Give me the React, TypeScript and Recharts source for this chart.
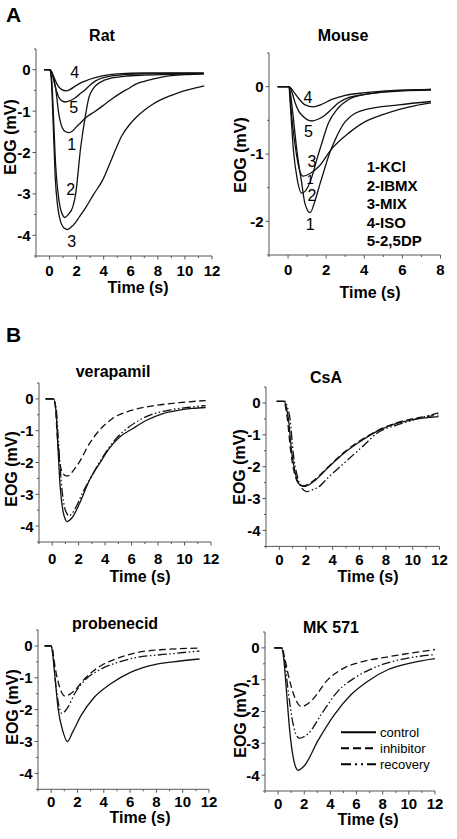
import { LineChart, Line, XAxis, YAxis, ReferenceDot } from 'recharts';

type Pt = [number, number];

// time (s), EOG (mV)
const ratKCl: Pt[] = [[-0.4, 0], [0, 0], [0.2, -0.1], [0.44, -0.43], [0.69, -1.08], [0.94, -1.4], [1.2, -1.5], [1.43, -1.52], [1.7, -1.48], [1.93, -1.4], [2.3, -1.28], [2.67, -1.16], [3.3, -1.02], [3.9, -0.88], [4.5, -0.73], [5.13, -0.59], [5.8, -0.46], [6.37, -0.35], [7, -0.28], [7.6, -0.23], [8.84, -0.15], [10, -0.12], [11.4, -0.1]];
const ratIBMX: Pt[] = [[-0.4, 0], [0, 0], [0.15, -0.2], [0.3, -1.2], [0.45, -2.3], [0.6, -2.9], [0.8, -3.35], [1.0, -3.53], [1.13, -3.57], [1.38, -3.5], [1.73, -3.3], [1.93, -3.0], [2.3, -1.88], [2.62, -1.17], [2.91, -0.67], [3.2, -0.47], [3.53, -0.35], [4.0, -0.26], [4.6, -0.2], [5.5, -0.16], [7, -0.13], [9, -0.11], [11.4, -0.1]];
const ratMIX: Pt[] = [[-0.4, 0], [0, 0], [0.12, -0.2], [0.28, -1.4], [0.42, -2.6], [0.6, -3.3], [0.8, -3.65], [1.05, -3.82], [1.31, -3.86], [1.6, -3.8], [1.9, -3.7], [2.17, -3.57], [2.67, -3.33], [3.28, -3.0], [3.9, -2.68], [4.6, -2.15], [5.33, -1.6], [5.9, -1.33], [6.37, -1.16], [7.0, -0.98], [7.6, -0.84], [8.2, -0.73], [8.84, -0.64], [9.5, -0.56], [10.07, -0.5], [10.8, -0.44], [11.43, -0.39]];
const ratISO: Pt[] = [[-0.4, 0], [0, 0], [0.15, -0.05], [0.35, -0.2], [0.6, -0.38], [0.9, -0.48], [1.23, -0.51], [1.5, -0.48], [1.93, -0.39], [2.3, -0.32], [2.67, -0.27], [3.3, -0.2], [3.9, -0.15], [5, -0.1], [7, -0.08], [9, -0.08], [11.4, -0.08]];
const ratDP: Pt[] = [[-0.4, 0], [0, 0], [0.15, -0.05], [0.32, -0.27], [0.5, -0.5], [0.69, -0.67], [0.95, -0.76], [1.19, -0.78], [1.5, -0.75], [1.93, -0.67], [2.3, -0.57], [2.67, -0.47], [3.0, -0.37], [3.4, -0.27], [4.0, -0.19], [4.6, -0.15], [5.5, -0.12], [7, -0.1], [9, -0.09], [11.4, -0.09]];

const mouseKCl: Pt[] = [[-0.54, 0], [0.05, 0], [0.25, -0.4], [0.46, -0.94], [0.72, -1.44], [0.89, -1.74], [1.16, -1.87], [1.42, -1.69], [1.68, -1.44], [1.95, -1.19], [2.2, -0.97], [2.47, -0.79], [3.0, -0.52], [4.05, -0.34], [5.8, -0.27], [7.5, -0.22]];
const mouseIBMX: Pt[] = [[-0.54, 0], [0.05, 0], [0.1, -0.19], [0.28, -0.94], [0.46, -1.34], [0.72, -1.58], [0.98, -1.52], [1.25, -1.34], [1.5, -1.09], [1.77, -0.84], [2.12, -0.54], [2.56, -0.34], [3.18, -0.19], [4.05, -0.115], [5.8, -0.065], [7.5, -0.04]];
const mouseMIX: Pt[] = [[-0.54, 0], [0.05, 0], [0.19, -0.44], [0.46, -1.04], [0.63, -1.27], [0.81, -1.33], [1.16, -1.29], [1.6, -1.19], [2.3, -0.92], [3.18, -0.69], [4.05, -0.52], [4.93, -0.42], [5.8, -0.34], [6.68, -0.28], [7.5, -0.24]];
const mouseISO: Pt[] = [[-0.54, 0], [0.05, 0], [0.3, -0.08], [0.6, -0.19], [0.9, -0.27], [1.33, -0.3], [1.7, -0.27], [2.3, -0.19], [3, -0.13], [4.05, -0.09], [5.8, -0.05], [7.5, -0.04]];
const mouseDP: Pt[] = [[-0.54, 0], [0.05, 0], [0.2, -0.08], [0.37, -0.24], [0.55, -0.36], [0.72, -0.42], [1.0, -0.49], [1.25, -0.51], [1.6, -0.48], [1.95, -0.42], [2.3, -0.33], [2.65, -0.24], [3.2, -0.16], [3.7, -0.13], [4.93, -0.08], [6, -0.06], [7.5, -0.05]];

const veraControl: Pt[] = [[-0.5, 0], [0.1, 0], [0.3, -0.45], [0.43, -1.5], [0.6, -2.76], [0.8, -3.5], [1.0, -3.8], [1.13, -3.86], [1.3, -3.82], [1.56, -3.7], [2.07, -3.28], [2.82, -2.55], [3.58, -2.03], [4.33, -1.55], [5.1, -1.2], [6.1, -0.93], [7.1, -0.68], [8.36, -0.46], [9.6, -0.35], [10.6, -0.3], [11.6, -0.27]];
const veraInhib: Pt[] = [[-0.5, 0], [0.1, 0], [0.25, -0.3], [0.35, -0.98], [0.55, -1.92], [0.8, -2.34], [1.05, -2.42], [1.26, -2.41], [1.6, -2.25], [2.07, -1.97], [2.82, -1.4], [3.58, -0.98], [4.58, -0.61], [5.84, -0.38], [7.6, -0.22], [9.6, -0.12], [11.6, -0.05]];
const veraRecov: Pt[] = [[-0.5, 0], [0.1, 0], [0.3, -0.3], [0.45, -1.2], [0.68, -2.6], [0.9, -3.35], [1.1, -3.6], [1.26, -3.68], [1.5, -3.6], [1.81, -3.39], [2.3, -2.95], [2.82, -2.55], [3.83, -1.82], [4.84, -1.24], [5.84, -0.87], [7.1, -0.56], [8.87, -0.35], [10.2, -0.27], [11.6, -0.21]];

const csaControl: Pt[] = [[-0.2, 0.05], [0.38, 0.05], [0.5, -0.1], [0.68, -0.5], [0.93, -1.55], [1.18, -2.17], [1.48, -2.54], [1.93, -2.62], [2.3, -2.55], [2.68, -2.43], [3.68, -2.02], [4.93, -1.55], [6.18, -1.18], [7.43, -0.87], [8.68, -0.66], [9.93, -0.53], [11.93, -0.43]];
const csaInhib: Pt[] = [[-0.2, 0.05], [0.35, 0.05], [0.45, -0.1], [0.6, -0.5], [0.85, -1.5], [1.1, -2.15], [1.4, -2.5], [1.8, -2.6], [2.3, -2.52], [2.68, -2.4], [3.68, -2.0], [4.93, -1.52], [6.18, -1.15], [7.43, -0.85], [8.68, -0.64], [9.93, -0.5], [11.93, -0.38]];
const csaRecov: Pt[] = [[-0.2, 0.05], [0.45, 0.05], [0.58, -0.1], [0.8, -0.5], [1.05, -1.6], [1.35, -2.3], [1.7, -2.68], [2.05, -2.78], [2.5, -2.72], [2.93, -2.64], [3.68, -2.33], [4.93, -1.86], [6.18, -1.39], [7.43, -0.92], [8.68, -0.71], [9.93, -0.55], [11.93, -0.31]];

const probControl: Pt[] = [[-0.5, 0], [0, 0], [0.1, -0.2], [0.28, -0.93], [0.53, -1.97], [0.9, -2.69], [1.23, -3.0], [1.65, -2.69], [2.28, -2.18], [3.28, -1.61], [4.53, -1.19], [6.03, -0.83], [7.53, -0.62], [9.28, -0.5], [11.28, -0.41]];
const probInhib: Pt[] = [[-0.5, 0], [0, 0], [0.1, -0.1], [0.28, -0.62], [0.65, -1.3], [0.85, -1.5], [1.08, -1.58], [1.4, -1.52], [1.78, -1.4], [2.53, -1.04], [3.78, -0.62], [5.03, -0.39], [6.28, -0.23], [8.28, -0.12], [11.28, -0.07]];
const probRecov: Pt[] = [[-0.5, 0], [0, 0], [0.12, -0.2], [0.33, -1.14], [0.55, -1.8], [0.83, -2.12], [1.05, -2.05], [1.28, -1.92], [1.78, -1.5], [2.53, -1.09], [3.78, -0.73], [5.03, -0.52], [6.28, -0.38], [8.78, -0.26], [11.28, -0.16]];

const mkControl: Pt[] = [[-0.3, 0], [0.25, 0], [0.45, -0.4], [0.64, -1.35], [0.89, -2.6], [1.15, -3.43], [1.35, -3.75], [1.53, -3.85], [1.75, -3.8], [2.04, -3.69], [3.06, -2.91], [4.34, -2.08], [5.61, -1.46], [6.89, -1.04], [8.42, -0.68], [10.2, -0.47], [12, -0.34]];
const mkInhib: Pt[] = [[-0.3, 0], [0.3, 0], [0.5, -0.3], [0.77, -0.83], [1.28, -1.56], [1.6, -1.8], [1.84, -1.85], [2.1, -1.8], [2.55, -1.66], [3.83, -0.99], [5.1, -0.62], [6.38, -0.44], [8.42, -0.28], [10.2, -0.16], [12, -0.05]];
const mkRecov: Pt[] = [[-0.3, 0], [0.3, 0], [0.5, -0.4], [0.77, -1.35], [1.15, -2.39], [1.45, -2.78], [1.66, -2.84], [1.95, -2.8], [2.3, -2.7], [3.32, -2.08], [4.6, -1.35], [5.87, -0.94], [7.65, -0.57], [9.44, -0.36], [12, -0.21]];

// curve numbers written on the traces: [t, mV, text, font size]
const ratNotes: [number, number, string, number][] = [[1.85, -0.07, '4', 16], [1.78, -0.92, '5', 16], [1.63, -1.81, '1', 16], [1.56, -2.89, '2', 16], [1.63, -4.14, '3', 16]];
const mouseNotes: [number, number, string, number][] = [[1.04, -0.165, '4', 16], [1.07, -0.665, '5', 16], [1.25, -1.115, '3', 16], [1.16, -1.37, '1', 13], [1.25, -1.62, '2', 16], [1.16, -2.04, '1', 16]];
const mouseKey = ['1-KCl', '2-IBMX', '3-MIX', '4-ISO', '5-2,5DP'];
const drugKey = ['control', 'inhibitor', 'recovery'];

const FONT = '"Liberation Sans", Arial, Helvetica, sans-serif';
const INHIB_DASH = '7 3.5';
const RECOV_DASH = '9 2.5 1.5 2.5 1.5 2.5';
const AXIS = '#555';

const rows = (pts: Pt[]) => pts.map(([t, v]) => ({ t, v }));
const range = (a: number, b: number, step: number) => {
    const out: number[] = [];
    for (let v = a; v <= b + 1e-9; v += step) out.push(Math.round(v * 10) / 10);
    return out;
};

interface Box { x: number; y: number; w: number; h: number }
interface Series { pts: Pt[]; dash?: string }

const RAT: Box = { x: 36, y: 49, w: 176, h: 207 };
const MOUSE: Box = { x: 268.5, y: 53, w: 171.5, h: 202 };
const VERA: Box = { x: 39, y: 383, w: 172, h: 159 };
const CSA: Box = { x: 266.3, y: 387.3, w: 173.4, h: 159.4 };
const PROB: Box = { x: 38.3, y: 630, w: 171, h: 159.3 };
const MK: Box = { x: 265.3, y: 631.7, w: 170, h: 159 };

const L = 40, T = 40, R = 14, B = 40;

function Panel({ box, xMax, yMin, gap, series, notes = [] }: {
    box: Box; xMax: number; yMin: number; gap: number; series: Series[]; notes?: [number, number, string, number][];
}) {
    const xTicks = range(-1, xMax, 1);
    const yTicks = range(yMin, 0.5, 0.5);

    const xTick = ({ x, y, payload }: any) => {
        const major = payload.value % 2 === 0;
        return (
            <g>
                <line x1={x} x2={x} y1={y} y2={y + (major ? 3.5 : 2)} stroke={AXIS} />
                {major && (
                    <text x={x} y={y + gap + 5.4} textAnchor="middle" fontFamily={FONT} fontWeight="bold" fontSize={15} fill="#000">
                        {payload.value}
                    </text>
                )}
            </g>
        );
    };
    const yTick = ({ x, y, payload }: any) => {
        const major = Number.isInteger(payload.value);
        return (
            <g>
                <line x1={x} x2={x - (major ? 3.5 : 2)} y1={y} y2={y} stroke={AXIS} />
                {major && (
                    <text x={x - 5.5} y={y + 5.4} textAnchor="end" fontFamily={FONT} fontWeight="bold" fontSize={15} fill="#000">
                        {payload.value}
                    </text>
                )}
            </g>
        );
    };

    return (
        <div style={{ position: 'absolute', left: box.x - L, top: box.y - T }}>
            <LineChart width={box.w + L + R} height={box.h + T + B} margin={{ top: T, right: R, left: 0, bottom: 0 }}>
                <XAxis type="number" dataKey="t" domain={[-1, xMax]} ticks={xTicks} interval={0} allowDataOverflow
                    height={B} tickSize={0} tickMargin={0} tickLine={false} axisLine={{ stroke: AXIS }} tick={xTick} />
                <YAxis type="number" domain={[yMin, 0.5]} ticks={yTicks} interval={0} allowDataOverflow
                    width={L} tickSize={0} tickMargin={0} tickLine={false} axisLine={{ stroke: AXIS }} tick={yTick} />
                {series.map((s, i) => (
                    <Line key={i} data={rows(s.pts)} dataKey="v" type="monotone" stroke="#111" strokeWidth={1.3}
                        strokeDasharray={s.dash} dot={false} activeDot={false} isAnimationActive={false} />
                ))}
                {notes.map(([t, v, txt, size], i) => (
                    <ReferenceDot key={'n' + i} x={t} y={v} r={1} fill="none" stroke="none"
                        label={{ value: txt, position: 'center', fontSize: size, fill: '#000', fontFamily: FONT }} />
                ))}
            </LineChart>
        </div>
    );
}

const T_STYLE = { fontFamily: FONT, fontWeight: 'bold' as const, fill: '#000' };

export default function App() {
    const yLabels: [number, number][] = [[10, 137], [240, 155], [11, 469], [239, 467], [12, 707], [240, 720]];
    const xLabels: [number, number][] = [[138, 293], [370, 298], [140, 582], [368, 582], [140, 823], [368, 825]];
    const titles: [number, number, string][] = [[102, 40.7, 'Rat'], [343, 40.7, 'Mouse'], [113, 377, 'verapamil'], [326, 382.7, 'CsA'], [115, 629, 'probenecid'], [331, 633, 'MK 571']];
    const keyDash = [undefined, '8 4', '10 4 2 4 2 4'];

    return (
        <div style={{ position: 'absolute', left: 0, top: 0, width: 457, height: 839, background: '#fff', overflow: 'hidden' }}>
            <Panel box={RAT} xMax={12} yMin={-4.5} gap={14.5} notes={ratNotes}
                series={[{ pts: ratKCl }, { pts: ratIBMX }, { pts: ratMIX }, { pts: ratISO }, { pts: ratDP }]} />
            <Panel box={MOUSE} xMax={8} yMin={-2.5} gap={14.5} notes={mouseNotes}
                series={[{ pts: mouseKCl }, { pts: mouseIBMX }, { pts: mouseMIX }, { pts: mouseISO }, { pts: mouseDP }]} />
            <Panel box={VERA} xMax={12} yMin={-4.5} gap={17}
                series={[{ pts: veraControl }, { pts: veraInhib, dash: INHIB_DASH }, { pts: veraRecov, dash: RECOV_DASH }]} />
            <Panel box={CSA} xMax={12} yMin={-4.5} gap={13}
                series={[{ pts: csaControl }, { pts: csaInhib, dash: INHIB_DASH }, { pts: csaRecov, dash: RECOV_DASH }]} />
            <Panel box={PROB} xMax={12} yMin={-4.5} gap={12.5}
                series={[{ pts: probControl }, { pts: probInhib, dash: INHIB_DASH }, { pts: probRecov, dash: RECOV_DASH }]} />
            <Panel box={MK} xMax={12} yMin={-4.5} gap={12.5}
                series={[{ pts: mkControl }, { pts: mkInhib, dash: INHIB_DASH }, { pts: mkRecov, dash: RECOV_DASH }]} />

            <svg width={457} height={839} style={{ position: 'absolute', left: 0, top: 0, pointerEvents: 'none' }}>
                <text x={6} y={22} fontSize={21} {...T_STYLE}>A</text>
                <text x={6} y={342} fontSize={21} {...T_STYLE}>B</text>
                {titles.map(([x, y, s]) => (
                    <text key={s} x={x} y={y} fontSize={16} textAnchor="middle" {...T_STYLE}>{s}</text>
                ))}
                {xLabels.map(([x, y], i) => (
                    <text key={'x' + i} x={x} y={y} fontSize={16} textAnchor="middle" {...T_STYLE}>Time (s)</text>
                ))}
                {yLabels.map(([x, y], i) => (
                    <text key={'y' + i} x={x} y={y} fontSize={16} textAnchor="middle" dominantBaseline="central"
                        transform={`rotate(-90 ${x} ${y})`} {...T_STYLE}>EOG (mV)</text>
                ))}
                {mouseKey.map((s, i) => (
                    <text key={s} x={366.7} y={172 + i * 18.5} fontSize={15} {...T_STYLE}>{s}</text>
                ))}
                {drugKey.map((s, i) => (
                    <g key={s}>
                        <line x1={341} x2={376} y1={732.3 + i * 16} y2={732.3 + i * 16} stroke="#000" strokeWidth={2} strokeDasharray={keyDash[i]} />
                        <text x={380} y={736.8 + i * 16} fontSize={13} fontFamily={FONT} fill="#000">{s}</text>
                    </g>
                ))}
            </svg>
        </div>
    );
}
